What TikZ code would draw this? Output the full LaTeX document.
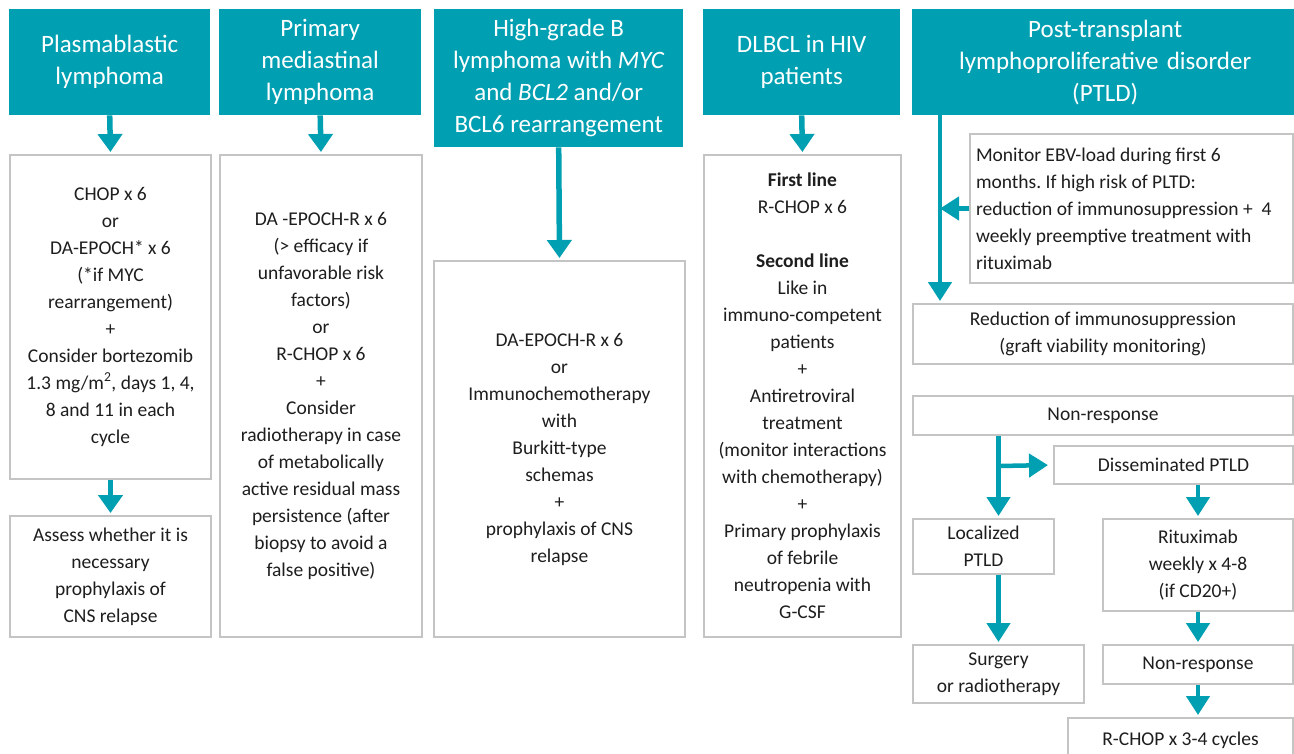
\documentclass[tikz,border=0pt]{standalone}
\usepackage{fontspec}
\setmainfont{Carlito}
\usetikzlibrary{arrows.meta,calc}
\definecolor{teal1}{RGB}{0,160,178}
\definecolor{boxgray}{RGB}{196,196,196}
\definecolor{txt}{RGB}{30,30,30}
\newcommand\bodyfnt{\fontsize{19.5}{27}\selectfont\frenchspacing}
\newcommand\headfnt{\fontsize{25}{32}\selectfont}
\tikzset{
  hdr/.style={fill=teal1, draw=none, text=white, inner sep=0pt, anchor=north west, align=center, font=\headfnt},
  box/.style={draw=boxgray, line width=2pt, fill=white, text=txt, inner sep=0pt, anchor=north west, align=center, font=\bodyfnt},
  arr/.style={draw=teal1, line width=5.5pt, -{Triangle[width=24pt,length=18pt]}, shorten >=2pt},
  arrs/.style={draw=teal1, line width=4.5pt, -{Triangle[width=23pt,length=19pt]}, shorten >=2pt},
}
\begin{document}
\begin{tikzpicture}[x=1pt,y=-1pt]
\useasboundingbox (0,0) rectangle (1294,753);
\clip (0,0) rectangle (1294,753);
\fill[white] (0,0) rectangle (1294,753);
% headers
\node[hdr, minimum width=201pt, minimum height=106pt] (h1) at (9,9) {Plasmablastic\\lymphoma};
\node[hdr, minimum width=202pt, minimum height=106pt] (h2) at (219,9) {Primary\\mediastinal\\lymphoma};
\node[hdr, minimum width=249pt, minimum height=138pt] (h3) at (434,9) {High-grade B\\lymphoma with \textit{MYC}\\and \textit{BCL2} and/or\\BCL6 rearrangement};
\node[hdr, minimum width=197pt, minimum height=106pt] (h4) at (703,9) {DLBCL in HIV\\patients};
\node[hdr, minimum width=386pt, minimum height=106pt, text width=382pt] (h5) at (912,9) {Post-transplant\\lymphoproliferative disorder\\(PTLD)};
% column boxes
\node[box, minimum width=201pt, minimum height=324pt] (b1) at (9,154) {CHOP x 6\\or\\DA-EPOCH* x 6\\(*if MYC\\rearrangement)\\+\\Consider bortezomib\\1.3 mg/m\textsuperscript{2}, days 1, 4,\\8 and 11 in each\\cycle};
\node[box, minimum width=201pt, minimum height=121pt] (b1b) at (9,515) {Assess whether it is\\necessary\\prophylaxis of\\CNS relapse};
\node[box, minimum width=202pt, minimum height=482pt] (b2) at (219,154) {DA -EPOCH-R x 6\\(> efficacy if\\unfavorable risk\\factors)\\or\\R-CHOP x 6\\+\\Consider\\radiotherapy in case\\of metabolically\\active residual mass\\persistence (after\\biopsy to avoid a\\false positive)};
\node[box, minimum width=251pt, minimum height=376pt] (b3) at (433,260) {DA-EPOCH-R x 6\\or\\Immunochemotherapy\\with\\Burkitt-type\\schemas\\+\\prophylaxis of CNS\\relapse};
\node[box, minimum width=197pt, minimum height=482pt] (b4) at (703,154) {\textbf{First line}\\R-CHOP x 6\\[27pt]\textbf{Second line}\\Like in\\immuno-competent\\patients\\+\\Antiretroviral\\treatment\\(monitor interactions\\with chemotherapy)\\+\\Primary prophylaxis\\of febrile\\neutropenia with\\G-CSF};
% PTLD column
\node[box, minimum width=323pt, minimum height=149pt, text width=311pt, align=flush left] (mon) at (969,133) {Monitor EBV-load during first 6\\months. If high risk of PLTD:\\reduction of immunosuppression +~~4\\weekly preemptive treatment with\\rituximab};
\node[box, minimum width=380pt, minimum height=60pt] (red) at (912,303) {Reduction of immunosuppression\\(graft viability monitoring)};
\node[box, minimum width=380pt, minimum height=39pt] (nr1) at (912,395) {Non-response};
\node[box, minimum width=239pt, minimum height=38pt] (dis) at (1053,445) {Disseminated PTLD};
\node[box, minimum width=141pt, minimum height=55pt] (loc) at (912,518) {Localized\\PTLD};
\node[box, minimum width=190pt, minimum height=92pt] (rit) at (1102,518) {Rituximab\\weekly x 4-8\\(if CD20+)};
\node[box, minimum width=171pt, minimum height=58pt] (sur) at (912,644) {Surgery\\or radiotherapy};
\node[box, minimum width=190pt, minimum height=39pt] (nr2) at (1102,644) {Non-response};
\node[box, minimum width=225pt, minimum height=44pt] (rc) at (1067,717) {R-CHOP x 3-4 cycles};
% connectors
\draw[arr] (h1.south) -- (b1.north);
\draw[arr] (b1.south) -- (b1b.north);
\draw[arr] (h2.south) -- (b2.north);
\draw[arr] (h3.south) -- (b3.north);
\draw[arr] (h4.south) -- (b4.north);
\coordinate (v5) at (940,115);
\draw[arrs] (v5) -- (v5 |- red.north);
\draw[arrs, shorten >=0pt] (mon.west) -- (mon.west -| v5);
\draw[arrs] (nr1.south -| sur.north) -- (loc.north -| sur.north);
\coordinate (br) at ($(nr1.south -| sur.north)+(0,30)$);
\draw[arrs, shorten >=5pt] (br) -- (dis.west);
\draw[arrs] (dis.south -| rit.north) -- (rit.north);
\draw[arrs] (loc.south -| sur.north) -- (sur.north);
\draw[arrs] (rit.south) -- (nr2.north);
\draw[arrs] (nr2.south) -- (nr2.south |- rc.north);
\end{tikzpicture}
\end{document}
